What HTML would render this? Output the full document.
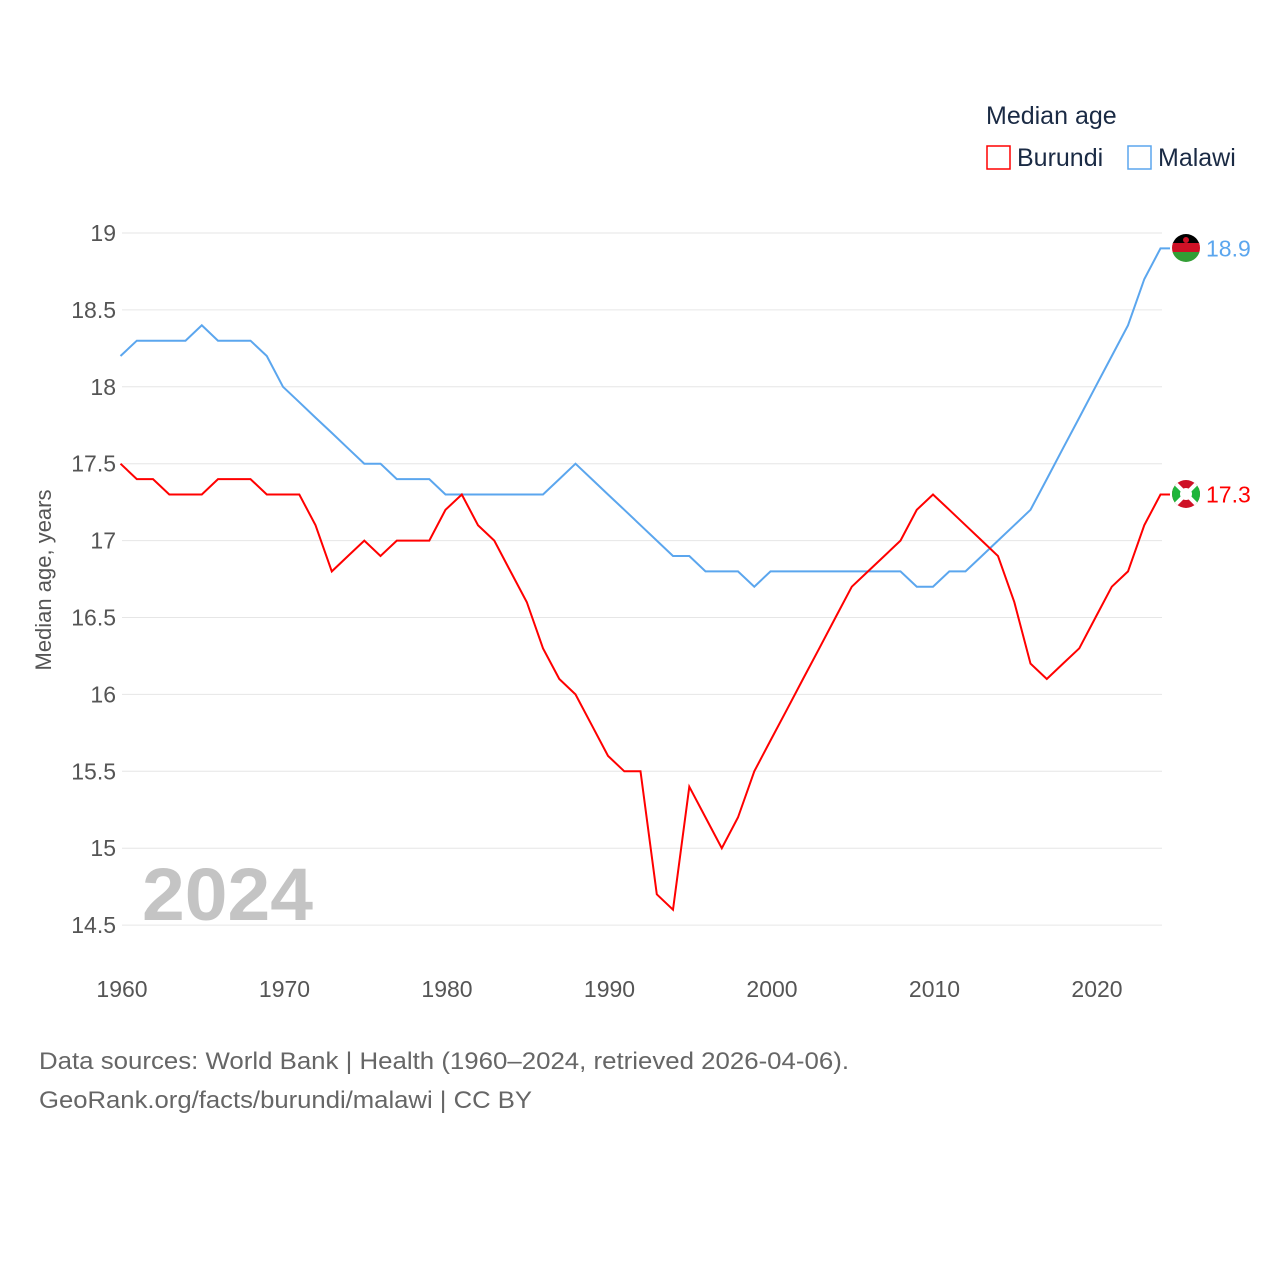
<!DOCTYPE html>
<html><head><meta charset="utf-8"><style>
body{margin:0;background:#fff;font-family:"Liberation Sans",sans-serif;}
svg text{font-family:"Liberation Sans",sans-serif;}
</style></head><body>
<svg id="chart" width="1280" height="1280" xmlns="http://www.w3.org/2000/svg">
<defs>
<clipPath id="cm"><circle cx="1186" cy="248" r="14"/></clipPath>
<clipPath id="cb"><circle cx="1186" cy="494" r="14"/></clipPath>
</defs>
<g id="grid"></g>
<g id="ylabels"></g>
<g id="xlabels"></g>
<text x="142" y="920" font-size="74" font-weight="bold" fill="#c4c4c4" textLength="171" lengthAdjust="spacingAndGlyphs">2024</text>
<text transform="translate(51,580) rotate(-90)" text-anchor="middle" font-size="22" fill="#555">Median age, years</text>
<g id="series"></g>
<text x="986" y="124" font-size="25" fill="#1a2a44">Median age</text>
<g><rect x="987" y="146" width="23" height="23" fill="none" stroke="#f00" stroke-width="1.5"/><text x="1017" y="166" font-size="25" fill="#1a2a44">Burundi</text></g>
<g><rect x="1128" y="146" width="23" height="23" fill="none" stroke="#5ba6ee" stroke-width="1.5"/><text x="1158" y="166" font-size="25" fill="#1a2a44">Malawi</text></g>
<text x="39" y="1069" font-size="24" fill="#666" textLength="810" lengthAdjust="spacingAndGlyphs">Data sources: World Bank | Health (1960–2024, retrieved 2026-04-06).</text>
<text x="39" y="1108" font-size="24" fill="#666" textLength="493" lengthAdjust="spacingAndGlyphs">GeoRank.org/facts/burundi/malawi | CC BY</text>
<g clip-path="url(#cm)">
<rect x="1172" y="234" width="28" height="10" fill="#000"/><rect x="1172" y="243" width="28" height="10" fill="#ce1126"/><rect x="1172" y="252" width="28" height="10" fill="#339e35"/><circle cx="1186" cy="240" r="3" fill="#ce1126"/>
</g>
<g clip-path="url(#cb)">
<rect x="1172" y="480" width="28" height="28" fill="#ce1126"/><polygon points="1172,480 1186,494 1172,508" fill="#1eb53a"/><polygon points="1200,480 1186,494 1200,508" fill="#1eb53a"/>
<line x1="1172" y1="480" x2="1200" y2="508" stroke="#fff" stroke-width="4"/><line x1="1200" y1="480" x2="1172" y2="508" stroke="#fff" stroke-width="4"/><circle cx="1186" cy="494" r="6" fill="#fff"/>
</g>
</svg>
<script>
const years=[];for(let y=1960;y<=2024;y++)years.push(y);
const burundi=[17.5,17.4,17.4,17.3,17.3,17.3,17.4,17.4,17.4,17.3,17.3,17.3,17.1,16.8,16.9,17.0,16.9,17.0,17.0,17.0,17.2,17.3,17.1,17.0,16.8,16.6,16.3,16.1,16.0,15.8,15.6,15.5,15.5,14.7,14.6,15.4,15.2,15.0,15.2,15.5,15.7,15.9,16.1,16.3,16.5,16.7,16.8,16.9,17.0,17.2,17.3,17.2,17.1,17.0,16.9,16.6,16.2,16.1,16.2,16.3,16.5,16.7,16.8,17.1,17.3];
const malawi=[18.2,18.3,18.3,18.3,18.3,18.4,18.3,18.3,18.3,18.2,18.0,17.9,17.8,17.7,17.6,17.5,17.5,17.4,17.4,17.4,17.3,17.3,17.3,17.3,17.3,17.3,17.3,17.4,17.5,17.4,17.3,17.2,17.1,17.0,16.9,16.9,16.8,16.8,16.8,16.7,16.8,16.8,16.8,16.8,16.8,16.8,16.8,16.8,16.8,16.7,16.7,16.8,16.8,16.9,17.0,17.1,17.2,17.4,17.6,17.8,18.0,18.2,18.4,18.7,18.9];
const yTicks=[14.5,15,15.5,16,16.5,17,17.5,18,18.5,19];
const xTicks=[1960,1970,1980,1990,2000,2010,2020];
const X=v=>122+(v-1960)*16.25;
const Y=v=>233+(19-v)*153.8;
const NS='http://www.w3.org/2000/svg';
function mk(t,a,p){const e=document.createElementNS(NS,t);for(const k in a)e.setAttribute(k,a[k]);p.appendChild(e);return e;}
const grid=document.getElementById('grid'),yl=document.getElementById('ylabels'),xl=document.getElementById('xlabels'),ser=document.getElementById('series');
yTicks.forEach(v=>{
 const l=mk('line',{x1:122,x2:1162,y1:Y(v),y2:Y(v),stroke:'#e6e6e6','stroke-width':1},grid);
 
 
 const t=mk('text',{x:116,y:Y(v)+8,'text-anchor':'end','font-size':23,fill:'#555'},yl);t.textContent=v;
 
 
});
xTicks.forEach(v=>{
 const t=mk('text',{x:X(v),y:997,'text-anchor':'middle','font-size':23,fill:'#555'},xl);t.textContent=v;
 
 
});
function line(vals,color,name){
 const last=vals[vals.length-1];
 const d=vals.map((v,i)=>(i?'L':'M')+X(years[i]-1).toFixed(1)+','+Y(v).toFixed(1)).join('').replace(/^M[^L]*/,'')
 ;
 const d2=vals.map((v,i)=>(i?'L':'M')+(X(years[i])-1.5).toFixed(1)+','+Y(v).toFixed(1)).join('')+'L'+(X(2024)+8).toFixed(1)+','+Y(last).toFixed(1);
 const p=mk('path',{d:d2,fill:'none',stroke:color,'stroke-width':2},ser);
 
 
 const t=mk('text',{x:1206,y:Y(last)+8,'font-size':23,fill:color},ser);t.textContent=last.toFixed(1);
 
 
}
line(malawi,'#5ba6ee','malawi');
line(burundi,'#f00','burundi');
</script>
</body></html>
